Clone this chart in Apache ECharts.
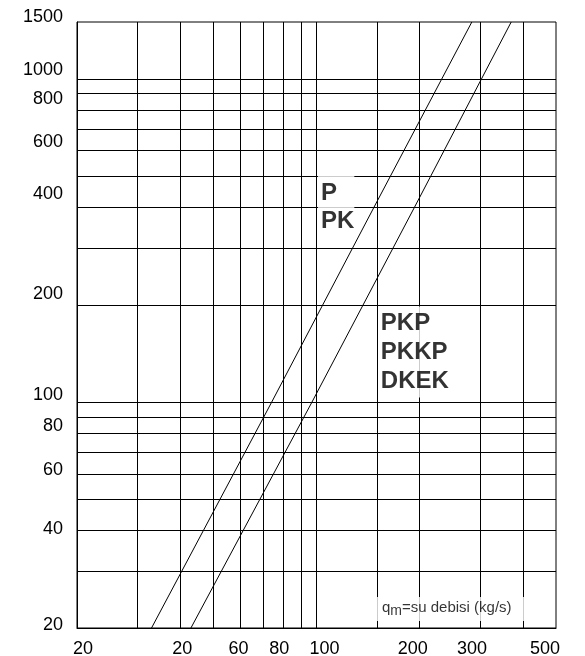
<!DOCTYPE html>
<html><head><meta charset="utf-8">
<script src="https://cdn.jsdelivr.net/npm/echarts@6/dist/echarts.min.js"></script>
<style>html,body{margin:0;padding:0;background:#fff}#c{width:585px;height:656px}</style>
</head><body><div id="c"></div>
<script>
// ---- data ----
const xTickValues = [20, 40, 60, 80, 100, 200, 300, 500];
const xTickLabels = ['20', '20', '60', '80', '100', '200', '300', '500'];
const xGridValues = [30, 40, 50, 60, 70, 80, 90, 100, 150, 200, 300, 400];
const yTickValues = [20, 40, 60, 80, 100, 200, 400, 600, 800, 1000, 1500];
const yTickLabels = ['20', '40', '60', '80', '100', '200', '400', '600', '800', '1000', '1500'];
const yGridValues = [30, 40, 50, 60, 70, 80, 90, 100, 200, 300, 400, 500, 600, 700, 800, 900, 1000];
const seriesNames = ['P, PK', 'PKP, PKKP, DKEK'];
const lineP_x = [33, 74, 147, 284];
const lineP_y = [20, 100, 400, 1500];
const linePKP_x = [43, 97, 193, 370];
const linePKP_y = [20, 100, 400, 1500];
const labelP = ['P', 'PK'];
const labelPKP = ['PKP', 'PKKP', 'DKEK'];
const axisNote = ['q', 'm', '=su debisi (kg/s)'];

// ---- presentation ----
const FONT = 'Liberation Sans, Arial, Helvetica, sans-serif';
const xNudge = [6, 2, -2, -4, 8, -7, -8, -11];          // px right
const yNudge = [3, 2, 4, 7, 7, 11, 13, 9, 11, 9, 5];     // px up

const xRich = {}, yRich = {};
xNudge.forEach((d, i) => {
  xRich['x' + i] = { fontSize: 18, fontFamily: FONT, color: '#000',
    padding: d >= 0 ? [0, 0, 0, 2 * d] : [0, -2 * d, 0, 0] };
});
yNudge.forEach((d, i) => {
  yRich['y' + i] = { fontSize: 18, fontFamily: FONT, color: '#000', padding: [0, 0, 2 * d, 0] };
});
function idxOf(arr, v) {
  let best = 0, bd = Infinity;
  arr.forEach((a, i) => { const dd = Math.abs(Math.log(a) - Math.log(v)); if (dd < bd) { bd = dd; best = i; } });
  return best;
}
const zip = (xs, ys) => xs.map((x, i) => [x, ys[i]]);
const gridLine = { show: true, lineStyle: { color: '#000', width: 1, type: 'solid' } };

const chart = echarts.init(document.getElementById('c'), null, { renderer: 'canvas' });
chart.setOption({
  animation: false,
  backgroundColor: '#fff',
  grid: { left: 77, top: 22, width: 479, height: 606, containLabel: false, outerBoundsMode: 'none',
    show: true, borderColor: '#000', borderWidth: 1, backgroundColor: 'transparent' },
  xAxis: {
    type: 'log', logBase: 10, min: 20, max: 500,
    axisLine: { show: true, lineStyle: { color: '#000', width: 1 } },
    axisTick: { show: false, customValues: xGridValues },
    splitLine: gridLine,
    minorSplitLine: { show: false },
    axisLabel: {
      show: true, customValues: xTickValues, margin: 12,
      formatter: v => { const i = idxOf(xTickValues, v); return '{x' + i + '|' + xTickLabels[i] + '}'; },
      rich: xRich, fontSize: 18, fontFamily: FONT, color: '#000'
    }
  },
  yAxis: {
    type: 'log', logBase: 10, min: 20, max: 1500,
    axisLine: { show: true, lineStyle: { color: '#000', width: 1 } },
    axisTick: { show: false, customValues: yGridValues },
    splitLine: gridLine,
    minorSplitLine: { show: false },
    axisLabel: {
      show: true, customValues: yTickValues, margin: 14,
      formatter: v => { const i = idxOf(yTickValues, v); return '{y' + i + '|' + yTickLabels[i] + '}'; },
      rich: yRich, fontSize: 18, fontFamily: FONT, color: '#000'
    }
  },
  series: [
    { name: seriesNames[0], type: 'line', data: zip(lineP_x, lineP_y), showSymbol: false, symbol: 'none',
      lineStyle: { color: '#000', width: 1 }, z: 3, silent: true },
    { name: seriesNames[1], type: 'line', data: zip(linePKP_x, linePKP_y), showSymbol: false, symbol: 'none',
      lineStyle: { color: '#000', width: 1 }, z: 3, silent: true },
    { type: 'scatter', data: [[101, 400]], symbolSize: 0.01, itemStyle: { color: 'rgba(0,0,0,0)' }, clip: false, silent: true, z: 5,
      label: { show: true, position: 'inside', align: 'left', verticalAlign: 'middle',
        formatter: labelP.join('\n'), fontSize: 24, fontWeight: 'bold', lineHeight: 28, fontFamily: FONT,
        color: '#000', backgroundColor: '#fff', padding: [4, 0, 4, 3] } },
    { type: 'scatter', data: [[152, 143]], symbolSize: 0.01, itemStyle: { color: 'rgba(0,0,0,0)' }, clip: false, silent: true, z: 5,
      label: { show: true, position: 'inside', align: 'left', verticalAlign: 'middle',
        formatter: labelPKP.join('\n'), fontSize: 24, fontWeight: 'bold', lineHeight: 29, fontFamily: FONT,
        color: '#000', backgroundColor: '#fff', padding: [2, 6, 2, 2] } },
    { type: 'scatter', data: [[240, 22.9]], symbolSize: 0.01, itemStyle: { color: 'rgba(0,0,0,0)' }, clip: false, silent: true, z: 5,
      label: { show: true, position: 'inside', align: 'center', verticalAlign: 'middle',
        formatter: '{a|' + axisNote[0] + '}{s|' + axisNote[1] + '}{a|' + axisNote[2] + '}',
        rich: {
          a: { fontSize: 15, lineHeight: 18, verticalAlign: 'top', fontFamily: FONT, color: '#000' },
          s: { fontSize: 14, lineHeight: 18, verticalAlign: 'top', padding: [4, 0, 0, 0], fontFamily: FONT, color: '#000' }
        },
        backgroundColor: '#fff', padding: [3, 13, 3, 13] } }
  ]
});
</script>
</body></html>
